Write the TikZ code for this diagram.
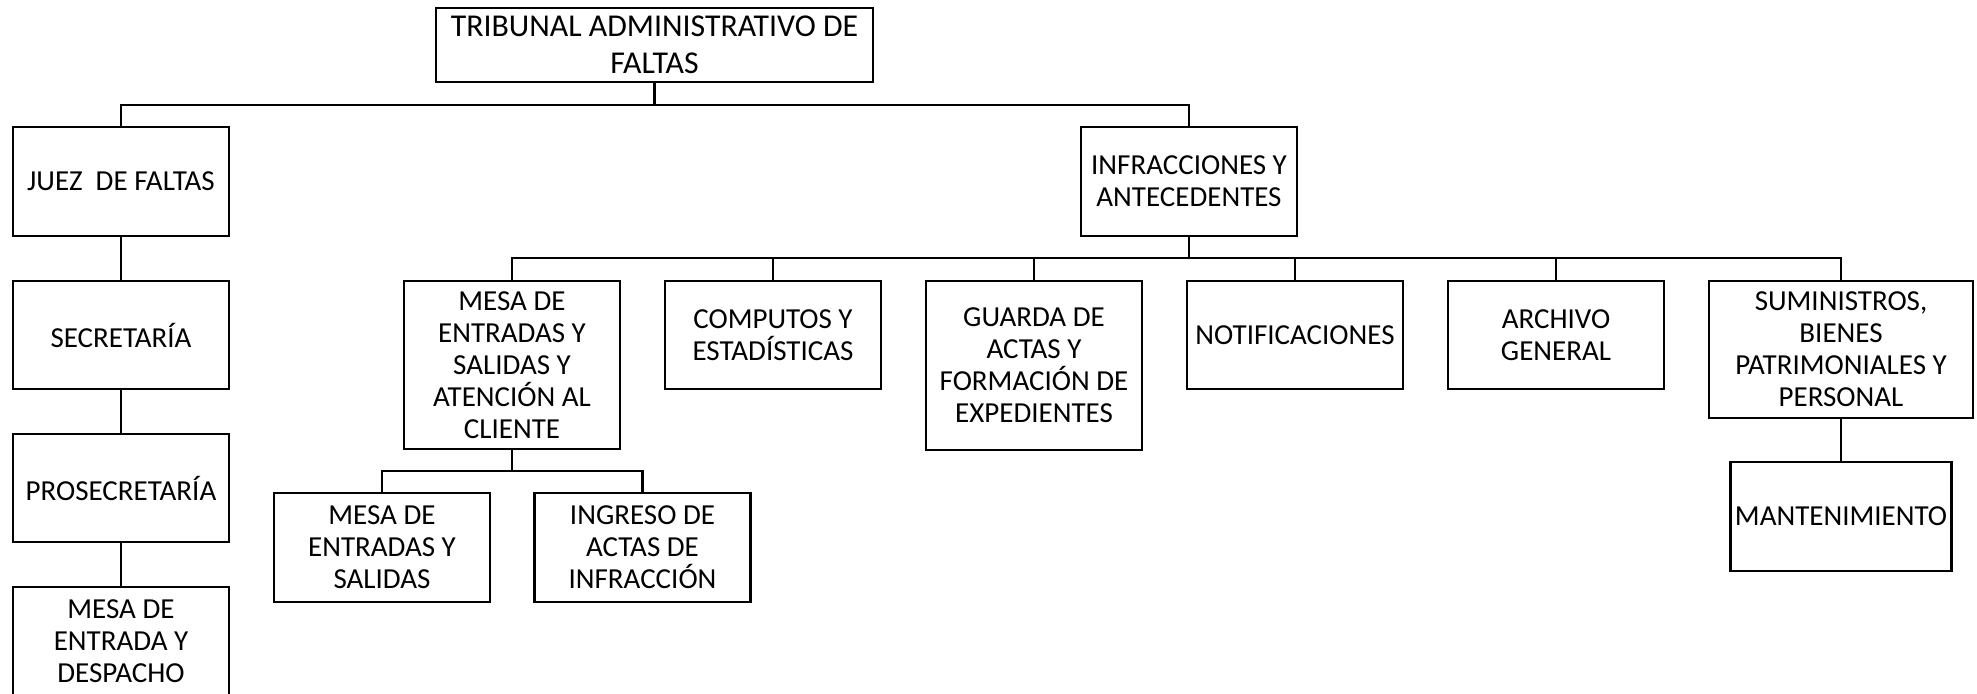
\documentclass[tikz,border=0pt]{standalone}
\usepackage{fontspec}
\setmainfont{Carlito}
\begin{document}
\begin{tikzpicture}[x=1pt,y=1pt,
  box/.style={draw, line width=2.8pt, rectangle, inner sep=0pt, align=center,
    font=\fontsize{29}{32}\selectfont},
  conn/.style={line width=2.6pt}]
\useasboundingbox (0,0) rectangle (1977,-693);
\clip (0,0) rectangle (1977,-693);
\fill[white] (0,0) rectangle (1977,-693);
% nodes
\node[box, minimum width=437, minimum height=74, font=\fontsize{31.8}{37}\selectfont] (trib) at (654.5,-45) {TRIBUNAL ADMINISTRATIVO DE\\FALTAS};
\node[box, minimum width=216, minimum height=109] (juez) at (121,-181.5) {JUEZ\ \ DE FALTAS};
\node[box, minimum width=216, minimum height=109] (infr) at (1189,-181.5) {INFRACCIONES Y\\ANTECEDENTES};
\node[box, minimum width=216, minimum height=108] (sec) at (121,-335) {SECRETARÍA};
\node[box, minimum width=216, minimum height=108] (prosec) at (121,-488) {PROSECRETARÍA};
\node[box, minimum width=216, minimum height=108] (mesadesp) at (121,-641) {MESA DE\\ENTRADA Y\\DESPACHO};
\node[box, minimum width=216, minimum height=168] (mesa) at (512,-365) {MESA DE\\ENTRADAS Y\\SALIDAS Y\\ATENCIÓN AL\\CLIENTE};
\node[box, minimum width=216, minimum height=108] (comp) at (773,-335) {COMPUTOS Y\\ESTADÍSTICAS};
\node[box, minimum width=216, minimum height=169] (guarda) at (1034,-365.5) {GUARDA DE\\ACTAS Y\\FORMACIÓN DE\\EXPEDIENTES};
\node[box, minimum width=216, minimum height=108] (notif) at (1295,-335) {NOTIFICACIONES};
\node[box, minimum width=216, minimum height=108] (arch) at (1556,-335) {ARCHIVO\\GENERAL};
\node[box, minimum width=264, minimum height=137] (sumin) at (1841,-349.5) {SUMINISTROS,\\BIENES\\PATRIMONIALES Y\\PERSONAL};
\node[box, minimum width=221, minimum height=109] (mant) at (1841,-516.5) {MANTENIMIENTO};
\node[box, minimum width=216, minimum height=109] (mesaes) at (382,-547.5) {MESA DE\\ENTRADAS Y\\SALIDAS};
\node[box, minimum width=216, minimum height=109] (ingreso) at (642.5,-547.5) {INGRESO DE\\ACTAS DE\\INFRACCIÓN};
% bar levels
\coordinate (b1) at (0,-105);
\coordinate (b2) at (0,-258);
\coordinate (b3) at (0,-471);
% connectors
\draw[conn] (trib.south) -- (trib.south |- b1);
\draw[conn] (juez.north) -- (juez.north |- b1) -- (infr.north |- b1) -- (infr.north);
\draw[conn] (juez.south) -- (sec.north);
\draw[conn] (sec.south) -- (prosec.north);
\draw[conn] (prosec.south) -- (mesadesp.north);
\draw[conn] (infr.south) -- (infr.south |- b2);
\draw[conn] (mesa.north) -- (mesa.north |- b2) -- (sumin.north |- b2) -- (sumin.north);
\draw[conn] (comp.north) -- (comp.north |- b2);
\draw[conn] (guarda.north) -- (guarda.north |- b2);
\draw[conn] (notif.north) -- (notif.north |- b2);
\draw[conn] (arch.north) -- (arch.north |- b2);
\draw[conn] (mesa.south) -- (mesa.south |- b3);
\draw[conn] (mesaes.north) -- (mesaes.north |- b3) -- (ingreso.north |- b3) -- (ingreso.north);
\draw[conn] (sumin.south) -- (mant.north);
\end{tikzpicture}
\end{document}
